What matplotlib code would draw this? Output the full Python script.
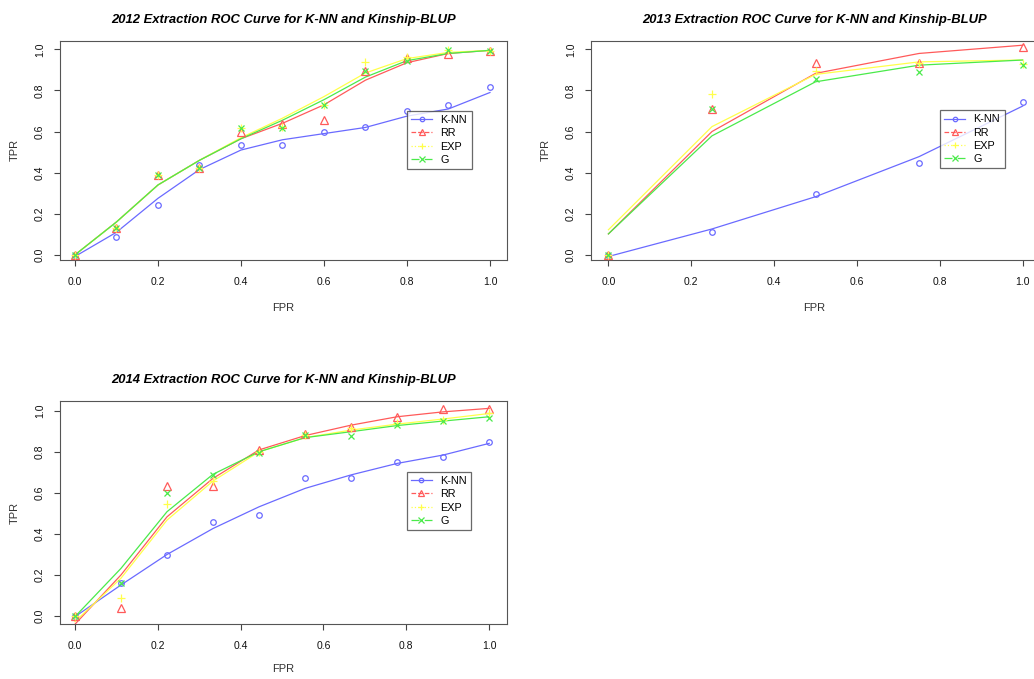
import matplotlib
matplotlib.use("Agg")
import matplotlib.pyplot as plt
from matplotlib.lines import Line2D

plt.rcParams['font.family'] = ['Liberation Sans', 'DejaVu Sans']

# ---- 2012 ----
x12 = [0.0, 0.1, 0.2, 0.3, 0.4, 0.5, 0.6, 0.7, 0.8, 0.9, 1.0]
knn12_pts = [0.0, 0.085, 0.245, 0.437, 0.535, 0.535, 0.60, 0.62, 0.70, 0.73, 0.815]
rr12_pts = [0.0, 0.13, 0.39, 0.425, 0.60, 0.635, 0.655, 0.895, 0.96, 0.975, 0.99]
exp12_pts = [0.0, 0.13, 0.39, 0.425, 0.615, 0.62, 0.73, 0.94, 0.965, 0.995, 0.99]
g12_pts = [0.0, 0.13, 0.39, 0.425, 0.615, 0.615, 0.73, 0.895, 0.945, 0.995, 0.99]
knn12_fit = [-0.008, 0.11, 0.275, 0.415, 0.51, 0.56, 0.59, 0.62, 0.675, 0.71, 0.79]
rr12_fit = [0.0, 0.16, 0.34, 0.46, 0.565, 0.64, 0.73, 0.85, 0.935, 0.98, 0.995]
exp12_fit = [0.0, 0.16, 0.34, 0.46, 0.57, 0.665, 0.77, 0.885, 0.955, 0.985, 0.995]
g12_fit = [0.0, 0.16, 0.34, 0.46, 0.565, 0.655, 0.755, 0.865, 0.945, 0.98, 0.995]

# ---- 2013 ----
x13 = [0.0, 0.25, 0.5, 0.75, 1.0]
knn13_pts = [0.0, 0.113, 0.296, 0.449, 0.745]
rr13_pts = [0.0, 0.71, 0.935, 0.935, 1.01]
exp13_pts = [0.0, 0.783, 0.894, 0.935, 0.93]
g13_pts = [0.0, 0.71, 0.854, 0.891, 0.926]
knn13_fit = [-0.008, 0.126, 0.283, 0.478, 0.724]
rr13_fit = [0.102, 0.60, 0.883, 0.98, 1.02]
exp13_fit = [0.122, 0.624, 0.878, 0.939, 0.948]
g13_fit = [0.102, 0.579, 0.842, 0.923, 0.948]

# ---- 2014 ----
x14 = [0.0, 1/9, 2/9, 3/9, 4/9, 5/9, 6/9, 7/9, 8/9, 1.0]
knn14_pts = [0.0, 0.158, 0.299, 0.459, 0.491, 0.671, 0.671, 0.75, 0.777, 0.847]
rr14_pts = [0.0, 0.036, 0.635, 0.635, 0.81, 0.886, 0.92, 0.972, 1.008, 1.008]
exp14_pts = [0.0, 0.088, 0.548, 0.658, 0.801, 0.883, 0.918, 0.94, 0.956, 0.988]
g14_pts = [0.0, 0.158, 0.598, 0.688, 0.793, 0.883, 0.88, 0.931, 0.951, 0.967]
knn14_fit = [-0.005, 0.15, 0.299, 0.426, 0.532, 0.622, 0.688, 0.744, 0.785, 0.842]
rr14_fit = [-0.042, 0.199, 0.483, 0.671, 0.81, 0.88, 0.931, 0.972, 0.996, 1.013]
exp14_fit = [-0.029, 0.183, 0.467, 0.658, 0.801, 0.87, 0.907, 0.936, 0.961, 0.988]
g14_fit = [-0.005, 0.231, 0.508, 0.691, 0.801, 0.87, 0.899, 0.929, 0.951, 0.972]

names = ['K-NN', 'RR', 'EXP', 'G']
colors = ['#6a6aff', '#ff5a5a', '#ffff4a', '#4aea4a']
markers = ['o', '^', '+', 'x']
msizes = [4, 5.5, 6, 5]
lstyles = ['-', '--', ':', '-.']
ticks = [0.0, 0.2, 0.4, 0.6, 0.8, 1.0]


def panel(ax, x, pts, fits, title, xlim, ylim, xlab_y, ylab_x, leg_xy):
    for y, f, c, m, ms in zip(pts, fits, colors, markers, msizes):
        ax.plot(x, f, color=c, lw=0.9, zorder=2)
        ax.plot(x, y, ls='none', marker=m, ms=ms, mfc='none', mec=c, mew=0.9, zorder=3)
    ax.set_xlim(xlim)
    ax.set_ylim(ylim)
    ax.set_xticks(ticks)
    ax.set_yticks(ticks)
    ax.set_xticklabels(['%.1f' % t for t in ticks])
    ax.set_yticklabels(['%.1f' % t for t in ticks], rotation=90, va='center')
    ax.tick_params(length=4, width=0.8, color='#444444', labelsize=7.5, pad=8, labelcolor='#111111')
    ax.tick_params(axis='y', pad=7)
    for s in ax.spines.values():
        s.set_color('#555555')
        s.set_linewidth(0.8)
    ax.set_title(title, fontsize=9.4, fontweight='bold', fontstyle='italic', pad=13)
    ax.set_xlabel('FPR', fontsize=8, color='#333333')
    ax.set_ylabel('TPR', fontsize=8, color='#333333')
    ax.xaxis.set_label_coords(0.5, xlab_y)
    ax.yaxis.set_label_coords(ylab_x, 0.5)
    handles = [Line2D([0], [0], color=c, ls=l, lw=0.9, marker=m, ms=ms * 0.8, mfc='none', mec=c, mew=0.9)
               for c, l, m, ms in zip(colors, lstyles, markers, msizes)]
    leg = ax.legend(handles, names, loc='upper left', bbox_to_anchor=leg_xy,
                    bbox_transform=fig.transFigure, fontsize=7.8, frameon=True, fancybox=False,
                    handlelength=1.9, handletextpad=0.8, borderpad=0.4, labelspacing=0.3,
                    borderaxespad=0)
    leg.get_frame().set_edgecolor('#444444')
    leg.get_frame().set_linewidth(0.9)
    leg.set_zorder(5)


fig = plt.figure(figsize=(10.34, 6.79), dpi=100)
ax1 = fig.add_axes([0.05803, 0.61708, 0.43230, 0.32298])
ax2 = fig.add_axes([0.57157, 0.61708, 0.43230, 0.32298])
ax3 = fig.add_axes([0.05803, 0.08056, 0.43230, 0.32887])

panel(ax1, x12, [knn12_pts, rr12_pts, exp12_pts, g12_pts],
      [knn12_fit, rr12_fit, exp12_fit, g12_fit],
      '2012 Extraction ROC Curve for K-NN and Kinship-BLUP',
      (-0.036, 1.041), (-0.025, 1.042), -0.195, -0.09, (0.3936, 0.837))
panel(ax2, x13, [knn13_pts, rr13_pts, exp13_pts, g13_pts],
      [knn13_fit, rr13_fit, exp13_fit, g13_fit],
      '2013 Extraction ROC Curve for K-NN and Kinship-BLUP',
      (-0.042, 1.037), (-0.025, 1.042), -0.195, -0.09, (0.9091, 0.838))
panel(ax3, x14, [knn14_pts, rr14_pts, exp14_pts, g14_pts],
      [knn14_fit, rr14_fit, exp14_fit, g14_fit],
      '2014 Extraction ROC Curve for K-NN and Kinship-BLUP',
      (-0.036, 1.043), (-0.042, 1.049), -0.178, -0.09, (0.3933, 0.3053))

fig.savefig('out.png', dpi=100, facecolor='white')
